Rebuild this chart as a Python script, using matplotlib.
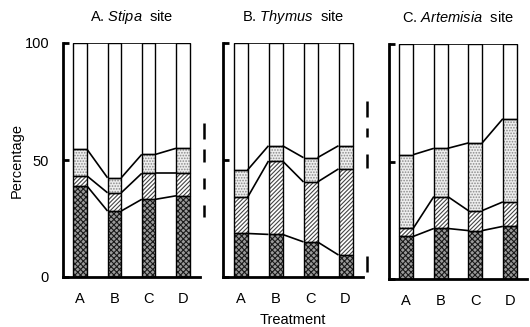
import matplotlib
matplotlib.use("Agg")
import matplotlib.pyplot as plt
import numpy as np

plt.rcParams['font.family'] = ['Liberation Sans', 'DejaVu Sans']
plt.rcParams['mathtext.fontset'] = 'custom'
plt.rcParams['mathtext.rm'] = 'Liberation Sans'
plt.rcParams['mathtext.it'] = 'Liberation Sans:italic'
plt.rcParams['hatch.linewidth'] = 0.8

treatments = ['A', 'B', 'C', 'D']
sites = ['A. $\\mathit{Stipa}$  site', 'B. $\\mathit{Thymus}$  site', 'C. $\\mathit{Artemisia}$  site']

# component percentages (bottom -> top); remainder up to 100 is the white part
stipa_cross = [38.9, 28.2, 33.2, 34.7]
stipa_diag = [4.3, 7.8, 11.1, 9.6]
stipa_dot = [11.4, 6.4, 8.1, 10.7]

thymus_cross = [18.6, 18.2, 15.0, 9.4]
thymus_diag = [15.4, 31.4, 25.6, 36.8]
thymus_dot = [11.7, 6.5, 10.4, 9.9]

artemisia_cross = [18.1, 21.5, 20.6, 22.4]
artemisia_diag = [3.4, 13.6, 8.5, 10.4]
artemisia_dot = [31.4, 20.5, 28.8, 35.4]

# LSD-like dashed markers (ranges in percentage) right of panels A and B
stipa_marks = [(59.0, 65.8), (49.1, 54.7), (37.6, 42.3), (25.6, 30.8)]
thymus_marks = [(68.4, 75.2), (59.8, 63.7), (46.6, 52.6), (2.1, 9.0)]

data = [
    (stipa_cross, stipa_diag, stipa_dot, stipa_marks),
    (thymus_cross, thymus_diag, thymus_dot, thymus_marks),
    (artemisia_cross, artemisia_diag, artemisia_dot, None),
]

W, H = 530, 327
fig = plt.figure(figsize=(W / 100, H / 100), dpi=100)

# axes pixel boxes: left, right, top, bottom
boxes = [(63, 200, 43, 277), (223, 363, 43, 277), (389, 527, 44, 279)]

styles = [
    dict(face='#9a9a9a', hatch='xxxxxx', hcolor='#1a1a1a'),
    dict(face='white', hatch='////////', hcolor='#444444'),
    dict(face='#eeeeee', hatch='......', hcolor='#8a8a8a'),
    dict(face='white', hatch=None, hcolor='black'),
]

bw = 0.4
x = np.arange(len(treatments))

for i, (cross, diag, dot, marks) in enumerate(data):
    l, r, t, b = boxes[i]
    ax = fig.add_axes([l / W, 1 - b / H, (r - l) / W, (b - t) / H])
    cross = np.array(cross); diag = np.array(diag); dot = np.array(dot)
    rest = 100 - cross - diag - dot
    comps = [cross, diag, dot, rest]
    bottom = np.zeros(len(x))
    levels = []
    for comp, st in zip(comps, styles):
        ax.bar(x, comp, bw, bottom=bottom, color=st['face'], edgecolor=st['hcolor'],
               hatch=st['hatch'], linewidth=0, zorder=2)
        ax.bar(x, comp, bw, bottom=bottom, fill=False, edgecolor='black',
               linewidth=1.0, zorder=3)
        bottom = bottom + comp
        levels.append(bottom.copy())
    for lev in levels:
        for j in range(len(x) - 1):
            ax.plot([x[j] + bw / 2, x[j + 1] - bw / 2], [lev[j], lev[j + 1]],
                    color='black', lw=1.2, zorder=3, solid_capstyle='butt')
    ax.set_xlim(-0.5, 3.5)
    ax.set_ylim(0, 100)
    for s in ['top', 'right']:
        ax.spines[s].set_visible(False)
    for s in ['left', 'bottom']:
        ax.spines[s].set_linewidth(2.0)
    ax.set_yticks([0, 50, 100])
    ax.tick_params(axis='y', direction='in', length=4, width=2, pad=10, labelsize=10.5)
    if i > 0:
        ax.set_yticklabels([])
    ax.set_xticks(x)
    ax.set_xticklabels(treatments)
    ax.tick_params(axis='x', length=0, pad=11, labelsize=10.5)
    if marks is not None:
        for lo, hi in marks:
            ax.plot([3.62, 3.62], [lo, hi], color='black', lw=1.8, clip_on=False,
                    solid_capstyle='butt')
    fig.text(((l + r) / 2) / W, 1 - 17 / H, sites[i], ha='center', va='center', fontsize=10.5)

fig.text(17 / W, 1 - 160 / H, 'Percentage', rotation=90, ha='center', va='center', fontsize=10.5)
fig.text(293 / W, 1 - 320 / H, 'Treatment', ha='center', va='center', fontsize=10.5)

fig.savefig('out.png', dpi=100)
